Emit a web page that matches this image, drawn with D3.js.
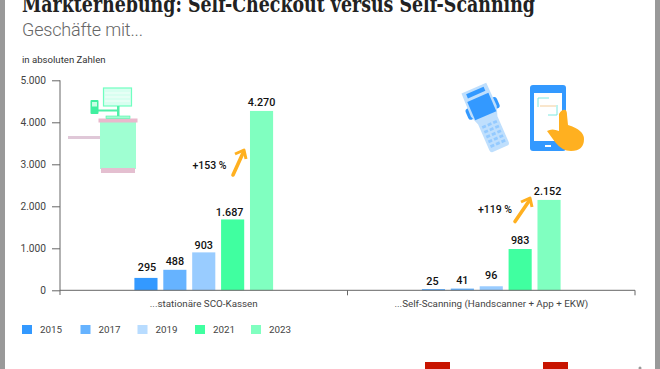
<!DOCTYPE html>
<html><head><meta charset="utf-8">
<script src="https://cdnjs.cloudflare.com/ajax/libs/d3/7.8.5/d3.min.js"></script>
<style>html,body{margin:0;padding:0;background:#fff;overflow:hidden}svg{display:block}text{font-family:Roboto,Inter,sans-serif}</style>
</head><body><svg id="c" width="660" height="369"></svg>
<script>
const categories = ["...stationäre SCO-Kassen", "...Self-Scanning (Handscanner + App + EKW)"];
const years = ["2015", "2017", "2019", "2021", "2023"];
const kassen = [295, 488, 903, 1687, 4270];
const scanning = [25, 41, 96, 983, 2152];
const series = [kassen, scanning];
const growth = ["+153 %", "+119 %"];
const yTicks = [0, 1000, 2000, 3000, 4000, 5000];
const colors = ["#3399ff", "#66b3ff", "#99ccff", "#40ffa0", "#80ffc0"];
const legendColors = ["#3399ff", "#66b3ff", "#b8dcff", "#40ffa0", "#80ffc0"];

const fmt = d3.formatLocale({decimal: ",", thousands: ".", grouping: [3], currency: ["", "€"]}).format(",d");
const svg = d3.select("#c");
const axisC = "#666";

svg.append("rect").attr("width", 5).attr("height", 369).attr("fill", "#999");
svg.append("rect").attr("x", 655).attr("width", 5).attr("height", 369).attr("fill", "#999");
svg.append("rect").attr("x", 425).attr("y", 362).attr("width", 25).attr("height", 7).attr("fill", "#c81400");
svg.append("rect").attr("x", 543).attr("y", 362).attr("width", 25).attr("height", 7).attr("fill", "#c81400");

svg.append("text").attr("x", 22).attr("y", 12).attr("textLength", 513).attr("lengthAdjust", "spacingAndGlyphs")
  .style("font-family", "'DejaVu Serif',serif").style("font-weight", 700).style("font-size", "21.5px").attr("fill", "#222")
  .text("Markterhebung: Self-Checkout versus Self-Scanning");
svg.append("text").attr("x", 22).attr("y", 36).attr("textLength", 121)
  .style("font-size", "18px").style("font-weight", 300).attr("fill", "#666").text("Geschäfte mit...");
svg.append("text").attr("x", 22).attr("y", 63).style("font-size", "9.6px").attr("fill", "#333").text("in absoluten Zahlen");

const y = d3.scaleLinear().domain([0, 5000]).range([290.3, 80.3]);
const x0 = d3.scaleBand().domain(categories).range([60, 635]);
const x1 = d3.scaleBand().domain(years).range([0, 138.7]).paddingInner(0.2);
const groupOff = (x0.bandwidth() - x1.range()[1]) / 2;

// hand-placed value labels in the reference: offsets from the bar-top default
const labelShift = [[[1, 7], [0, 5], [0, 3.5], [-3, 3.5], [0, 4.5]], [[-1, 4], [0, 4.5], [0, 7], [0, 5], [-1.5, 5]]];

categories.forEach((c, i) => {
  const gx = x0(c) + groupOff;
  const g = svg.append("g").attr("transform", `translate(${gx},0)`);
  g.selectAll("rect").data(series[i]).join("rect")
    .attr("x", (d, j) => x1(years[j])).attr("width", x1.bandwidth())
    .attr("y", d => y(d)).attr("height", d => y(0) - y(d))
    .attr("fill", (d, j) => colors[j]);
  g.selectAll("text").data(series[i]).join("text")
    .attr("x", (d, j) => x1(years[j]) + x1.bandwidth() / 2 + labelShift[i][j][0])
    .attr("y", (d, j) => y(d) - labelShift[i][j][1]).attr("text-anchor", "middle")
    .style("font-size", "10.8px").style("font-weight", 500).attr("fill", "#111")
    .text(d => fmt(d));
});

const yAxis = d3.axisLeft(y).tickValues(yTicks).tickSize(8).tickPadding(6).tickFormat(fmt);
const ya = svg.append("g").attr("transform", "translate(60,0)").call(yAxis);
ya.select(".domain").attr("d", "M0,80.3V295");
const xAxis = d3.axisBottom(x0).tickValues([]).tickSizeOuter(0);
const xa = svg.append("g").attr("transform", "translate(0,290.3)").call(xAxis);
xa.select(".domain").attr("d", "M60,0H635");
xa.selectAll(".edge").data([x0.range()[0] + x0.step(), x0.range()[1]]).join("line").attr("class", "edge")
  .attr("x1", d => d).attr("x2", d => d).attr("y1", 0).attr("y2", 5).attr("stroke", axisC);
[ya, xa].forEach(a => { a.selectAll(".domain,line").attr("stroke", axisC).attr("stroke-width", 1); });
ya.selectAll("text").style("font-size", "10.2px").style("font-family", "Roboto,Inter,sans-serif").attr("fill", "#444");

svg.selectAll(".cat").data(categories).join("text").attr("class", "cat")
  .attr("x", d => x0(d) + x0.bandwidth() / 2).attr("y", 306.5).attr("text-anchor", "middle")
  .style("font-size", "9.8px").attr("fill", "#444").text(d => d);

const legendX = [22, 80.5, 137.5, 195, 251];
years.forEach((yr, i) => {
  svg.append("rect").attr("x", legendX[i]).attr("y", 325).attr("width", 10).attr("height", 9).attr("fill", legendColors[i]);
  svg.append("text").attr("x", legendX[i] + 18).attr("y", 333).style("font-size", "9.8px").attr("fill", "#444").text(yr);
});

// growth notes
const notes = [{x: 226.5, y: 169, ax: 233, ay: 175, bx: 244, by: 151}, {x: 512, y: 213, ax: 515, ay: 221.5, bx: 530, by: 199}];
notes.forEach((n, i) => {
  svg.append("text").attr("x", n.x).attr("y", n.y).attr("text-anchor", "end").style("font-size", "10.5px").style("font-weight", 500).attr("fill", "#111").text(growth[i]);
  svg.append("path").attr("d", `M${n.ax},${n.ay}L${n.bx - 1},${n.by + 2}`).attr("stroke", "#ffb020").attr("stroke-width", 3.6).attr("stroke-linecap", "round");
  const hx = n.bx, hy = n.by;
  svg.append("path").attr("d", `M${hx - 9},${hy + 3}L${hx},${hy - 1}L${hx + 2},${hy + 8}`).attr("fill", "none").attr("stroke", "#ffb020").attr("stroke-width", 3).attr("stroke-linejoin", "round");
});

// decorative icon: checkout kiosk
const k = svg.append("g");
k.append("rect").attr("x", 68).attr("y", 136).attr("width", 33).attr("height", 3).attr("fill", "#e0c8d8");
k.append("rect").attr("x", 100).attr("y", 122).attr("width", 36).attr("height", 47).attr("fill", "#9fffd2");
k.append("rect").attr("x", 98.5).attr("y", 118.5).attr("width", 39).attr("height", 4).attr("fill", "#eab8cc");
k.append("rect").attr("x", 101).attr("y", 168).attr("width", 34).attr("height", 5).attr("fill", "#e4bfd0");
k.append("rect").attr("x", 103.5).attr("y", 88).attr("width", 28).attr("height", 18).attr("fill", "#d8fff0").attr("stroke", "#70ffc0").attr("stroke-width", 1.2);
[93, 97, 101].forEach(v => k.append("line").attr("x1", 105).attr("x2", 130).attr("y1", v).attr("y2", v).attr("stroke", "#f4fffa"));
k.append("rect").attr("x", 117).attr("y", 106).attr("width", 2.5).attr("height", 11).attr("fill", "#50f0a8");
k.append("rect").attr("x", 98).attr("y", 109.5).attr("width", 20).attr("height", 2).attr("fill", "#50f0a8");
k.append("rect").attr("x", 106).attr("y", 116).attr("width", 24).attr("height", 2.5).attr("fill", "#9fffd2").attr("stroke", "#50f0a8").attr("stroke-width", 0.6);
k.append("rect").attr("x", 90.5).attr("y", 100).attr("width", 8).attr("height", 14).attr("rx", 1).attr("fill", "#40f0a0");
k.append("rect").attr("x", 92).attr("y", 102).attr("width", 5).attr("height", 4.5).attr("fill", "#c8ffe4");

// decorative icon: handheld scanner
const h = svg.append("g").attr("transform", "translate(487,118.5) rotate(-23.5)");
h.append("rect").attr("x", -17).attr("y", -17).attr("width", 6).attr("height", 12).attr("rx", 3).attr("fill", "#3399ff");
h.append("rect").attr("x", 11).attr("y", -17).attr("width", 6).attr("height", 12).attr("rx", 3).attr("fill", "#3399ff");
h.append("path").attr("d", "M-13.5,-33H13.5L14,-8L10.5,2V30Q10.5,33 8,33H-8Q-10.5,33 -10.5,30V2L-14,-8Z").attr("fill", "#bfdffd");
h.append("rect").attr("x", -9.5).attr("y", -30.5).attr("width", 19).attr("height", 4.5).attr("fill", "#3399ff");
h.append("rect").attr("x", -11.5).attr("y", -23).attr("width", 23).attr("height", 20).attr("fill", "#3399ff");
d3.range(5).forEach(r => d3.range(3).forEach(c => h.append("rect").attr("x", -8 + c * 6).attr("y", 5 + r * 5.2).attr("width", 4).attr("height", 2.8).attr("fill", "#94caff")));

// decorative icon: phone with pointing hand
const p = svg.append("g");
p.append("rect").attr("x", 530).attr("y", 85).attr("width", 36).attr("height", 66).attr("rx", 3).attr("fill", "#3399ff");
p.append("rect").attr("x", 534).attr("y", 93).attr("width", 28).attr("height", 48).attr("fill", "#fff");
p.append("rect").attr("x", 545).attr("y", 145).attr("width", 6).attr("height", 2).attr("fill", "#fff");
p.append("path").attr("d", "M538,107V98H549M548,115H557V105").attr("fill", "none").attr("stroke", "#7fe8e0").attr("stroke-width", 1);
p.append("line").attr("x1", 540).attr("x2", 556).attr("y1", 106).attr("y2", 106).attr("stroke", "#f0c080").attr("stroke-width", 0.8);
p.append("path").attr("d", "M559,114Q562,109 565.5,110Q567,111 567,115L568,125Q584,130 584,139Q584,151 571,151Q562,151 555,142L547,131Q552,128 559,131Z").attr("fill", "#ffb020");
// cropped element in the bottom right corner
svg.append("circle").attr("cx", 640).attr("cy", 368).attr("r", 1.5).attr("fill", "#999");
</script></body></html>
